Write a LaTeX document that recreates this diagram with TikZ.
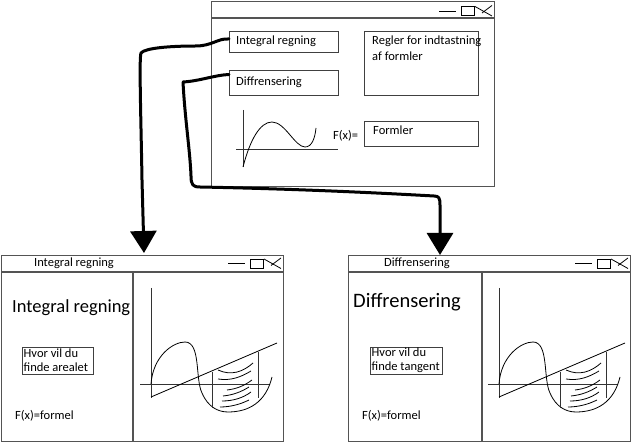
\documentclass[tikz,border=0pt]{standalone}
\usepackage{fontspec}
\setmainfont{Carlito}
\usetikzlibrary{arrows.meta}
\definecolor{winc}{gray}{0.33}
\definecolor{boxc}{gray}{0.25}
\begin{document}
\begin{tikzpicture}[x=1pt,y=-1pt,
  win/.style={draw=winc, line width=1.1pt, inner sep=0pt, anchor=north west},
  winline/.style={draw=winc, line width=1.1pt},
  fld/.style={draw=boxc, line width=1pt, inner sep=0pt, anchor=north west},
  txt/.style={inner sep=0pt, anchor=west, font=\fontsize{12.5}{14}\selectfont},
  ctl/.style={draw=black, line width=0.8pt},
  gline/.style={draw=black, line width=0.8pt},
  axis/.style={draw=black!80, line width=0.9pt},
  conn/.style={draw=black, line width=3pt, line cap=round, line join=round},
  tip/.style={-{Triangle[length=22pt,width=26pt]}},
  ctrls/.pic={
    \draw[ctl] (-55,0) -- (-38,0);
    \draw[ctl] (-33,-4.5) rectangle (-20,4.5);
    \draw[ctl] (-19,-4.5) -- (-2,5);
    \draw[ctl] (-12,2) -- (-2,-5.5);
  },
  grph/.pic={
    \draw[axis] (0,-96) -- (0,14);
    \draw[axis] (-11,0) -- (119,0);
    \draw[gline] (0,13) -- (126,-41);
    \draw[gline] (0,0) .. controls (2,-28) and (22,-42) .. (34,-42)
       .. controls (50,-42) and (44,-5) .. (51,9)
       .. controls (57,23) and (67,28) .. (77,28)
       .. controls (98,28) and (115,18) .. (121,-7);
    \draw[axis] (61,-12) -- (61,24);
    \draw[axis] (107,-32) -- (107,14);
    \draw[gline] (67,-14) .. controls (80,-8) and (92,-12) .. (102,-21);
    \draw[gline] (67,-5) .. controls (80,-3) and (90,-7) .. (100,-13);
    \draw[gline] (76,6) .. controls (85,5) and (93,2) .. (101,-4);
    \draw[gline] (72,12) .. controls (82,11) and (90,8) .. (98,3);
    \draw[gline] (71,17) .. controls (82,17) and (92,14) .. (100,8);
    \draw[gline] (69,23) .. controls (80,23) and (90,20) .. (98,16);
  }
]
\useasboundingbox (0,0) rectangle (633,443);

% ---------- top window ----------
\node[win, minimum width=283pt, minimum height=185pt] (topw) at (211,1) {};
\draw[winline] (211,18) -- (494,18);
\pic at (494,11) {ctrls};
\node[fld, minimum width=109pt, minimum height=21pt] (ir) at (229,31) {};
\node[txt] (irt) at (236,41.5) {Integral regning};
\node[fld, minimum width=109pt, minimum height=25pt] (df) at (229,70) {};
\node[txt] (dft) at (236,82) {Diffrensering};
\node[fld, minimum width=114pt, minimum height=64pt] (rg) at (364,31) {};
\node[txt, anchor=north west, align=left, font=\fontsize{12.5}{16}\selectfont] (rgt) at (372,36) {Regler for indtastning\\af formler};
\node[fld, minimum width=114pt, minimum height=25pt] (fo) at (364,121) {};
\node[txt] (fot) at (373,130) {Formler};
\node[txt] (fxt) at (333,136) {F(x)=};
\draw[axis] (243,110) -- (243,167);
\draw[axis] (236,149) -- (338,149);
\draw[gline] (243,167) .. controls (250,140) and (260,122) .. (272,122)
   .. controls (285,122) and (295,147) .. (305,147)
   .. controls (312,147) and (315,138) .. (316,128);

% ---------- bottom left window ----------
\node[win, minimum width=282pt, minimum height=186pt] (wl) at (1,255) {};
\draw[winline] (1,272) -- (283,272);
\draw[winline] (133,272) -- (133,441);
\pic at (283,263.5) {ctrls};
\node[txt, anchor=center] (wlt) at (74,263.5) {Integral regning};
\node[txt, font=\fontsize{18.5}{20}\selectfont] (wlh) at (12,308) {Integral regning};
\node[fld, minimum width=71pt, minimum height=27pt] (hl) at (22,347) {};
\node[txt, align=left] (hlt) at (23.5,360.5) {Hvor vil du\\finde arealet};
\node[txt] (fl) at (15,416) {F(x)=formel};
\pic at (151,384) {grph};

% ---------- bottom right window ----------
\node[win, minimum width=282pt, minimum height=186pt] (wr) at (348,255) {};
\draw[winline] (348,272) -- (630,272);
\draw[winline] (482,272) -- (482,441);
\pic at (630,263.5) {ctrls};
\node[txt, anchor=center] (wrt) at (417,263.5) {Diffrensering};
\node[txt, font=\fontsize{20.5}{22}\selectfont] (wrh) at (353,302) {Diffrensering};
\node[fld, minimum width=72pt, minimum height=27pt] (hr) at (370,347) {};
\node[txt, align=left] (hrt) at (371.5,360.5) {Hvor vil du\\finde tangent};
\node[txt] (fr) at (362,416) {F(x)=formel};
\pic at (499,384) {grph};

% ---------- connectors ----------
\coordinate (tipL) at (144,253);
\coordinate (tipR) at (440,255);
\draw[conn, tip] ([yshift=3pt]ir.west) .. controls (218,38) and (212,46) .. (196,46)
   .. controls (170,46) and (145,48) .. (141,53)
   .. controls (139,58) and (141,120) .. (142,180) -- (tipL);
\draw[conn, tip] ([yshift=8.5pt]df.west) .. controls (215,75) and (200,81) .. (183,82)
   .. controls (185,120) and (190,150) .. (191,176)
   .. controls (191,185) and (193,187) .. (200,187)
   .. controls (300,189) and (380,193) .. (434,196)
   .. controls (439,196) and (440,198) .. (440,205) -- (tipR);
\end{tikzpicture}
\end{document}
